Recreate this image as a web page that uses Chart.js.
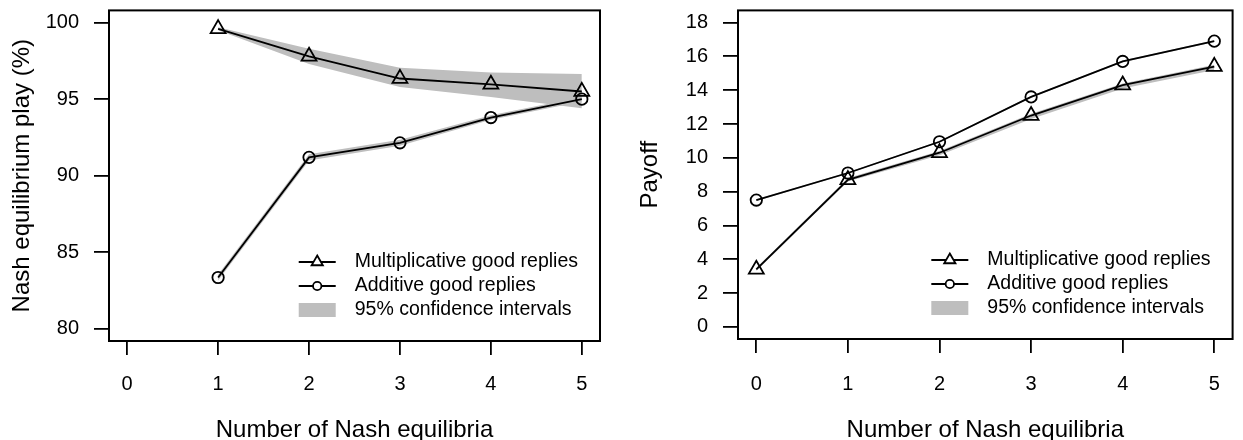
<!DOCTYPE html>
<html>
<head>
<meta charset="utf-8">
<script src="https://cdn.jsdelivr.net/npm/chart.js@4.4.1/dist/chart.umd.min.js"></script>
<style>
  html, body { margin: 0; padding: 0; background: #fff; }
  #left { position: absolute; left: 0; top: 0; }
  #right { position: absolute; left: 620px; top: 0; }
</style>
</head>
<body>
<canvas id="left" width="620" height="440"></canvas>
<canvas id="right" width="623" height="440"></canvas>
<script>
// x positions (number of Nash equilibria)
const xVals = [0, 1, 2, 3, 4, 5];

// left panel: Nash equilibrium play (%)
const nashMult = [null, 99.6, 97.8, 96.35, 95.97, 95.5];
const nashMultLo = [null, 99.5, 97.3, 95.8, 95.15, 94.4];
const nashMultHi = [null, 99.7, 98.3, 97.05, 96.75, 96.65];
const nashAdd = [null, 83.35, 91.2, 92.15, 93.8, 95.0];
const nashAddLo = [null, 83.15, 91.0, 91.95, 93.65, 94.85];
const nashAddHi = [null, 83.55, 91.4, 92.35, 93.95, 95.15];
const nashTicks = [80, 85, 90, 95, 100];

// right panel: payoff
const payMult = [3.4, 8.7, 10.3, 12.5, 14.3, 15.4];
const payMultLo = [3.3, 8.6, 10.15, 12.3, 14.1, 15.2];
const payMultHi = [3.5, 8.8, 10.4, 12.6, 14.4, 15.5];
const payAdd = [7.5, 9.1, 10.95, 13.6, 15.7, 16.9];
const payAddLo = [7.45, 9.05, 10.9, 13.55, 15.65, 16.85];
const payAddHi = [7.55, 9.15, 11.0, 13.65, 15.75, 16.95];
const payTicks = [0, 2, 4, 6, 8, 10, 12, 14, 16, 18];

const legendLabels = ["Multiplicative good replies", "Additive good replies", "95% confidence intervals"];

const FONT = "'Liberation Sans', Arial, Helvetica, sans-serif";
const BAND = "rgb(190,190,190)";

function pts(arr) {
  return arr.map((v, i) => ({ x: xVals[i], y: v }));
}

// box around the plot region
const frame = {
  id: "frame",
  afterDraw(chart) {
    const { ctx, chartArea: a } = chart;
    ctx.save();
    ctx.strokeStyle = "#000";
    ctx.lineWidth = 2;
    ctx.strokeRect(a.left, a.top, a.right - a.left, a.bottom - a.top);
    ctx.restore();
  },
};

// legend inside bottom right, like R's legend()
const boxLegend = {
  id: "boxLegend",
  afterDraw(chart) {
    const { ctx, chartArea: a } = chart;
    ctx.save();
    ctx.font = "19.5px " + FONT;
    const w = Math.max(...legendLabels.map((t) => ctx.measureText(t).width));
    const tx = a.right - 22 - w;
    const x1 = tx - 56, x2 = tx - 19, xm = (x1 + x2) / 2;
    const rows = [a.bottom - 79, a.bottom - 55, a.bottom - 31];

    ctx.strokeStyle = "#000";
    ctx.lineWidth = 1.8;
    for (let i = 0; i < 2; i++) {
      ctx.beginPath();
      ctx.moveTo(x1, rows[i]);
      ctx.lineTo(x2, rows[i]);
      ctx.stroke();
    }
    // triangle
    const r = 6.5;
    ctx.beginPath();
    ctx.moveTo(xm, rows[0] - r);
    ctx.lineTo(xm + r * 0.866, rows[0] + r / 2);
    ctx.lineTo(xm - r * 0.866, rows[0] + r / 2);
    ctx.closePath();
    ctx.fillStyle = "#fff";
    ctx.fill();
    ctx.stroke();
    // circle
    ctx.beginPath();
    ctx.arc(xm, rows[1], 4.2, 0, Math.PI * 2);
    ctx.fill();
    ctx.stroke();
    // band
    ctx.fillStyle = BAND;
    ctx.fillRect(x1, rows[2] - 7, x2 - x1, 14);

    ctx.fillStyle = "#000";
    ctx.textBaseline = "middle";
    ctx.textAlign = "left";
    legendLabels.forEach((t, i) => ctx.fillText(t, tx, rows[i]));
    ctx.restore();
  },
};

function makeChart(id, s, cfg) {
  const line = (data, style, r) => ({
    data: pts(data),
    borderColor: "#000",
    borderWidth: 1.8,
    pointStyle: style,
    pointRadius: r,
    pointBorderColor: "#000",
    pointBorderWidth: 1.8,
    pointBackgroundColor: "rgba(0,0,0,0)",
    fill: false,
    tension: 0,
  });
  const band = (data, fill) => ({
    data: pts(data),
    borderColor: "rgba(0,0,0,0)",
    borderWidth: 0,
    pointRadius: 0,
    backgroundColor: BAND,
    fill: fill,
    tension: 0,
  });

  return new Chart(document.getElementById(id), {
    type: "line",
    data: {
      datasets: [
        line(s.mult, "triangle", 8.6),
        line(s.add, "circle", 5.7),
        band(s.multHi, "+1"),
        band(s.multLo, false),
        band(s.addHi, "+1"),
        band(s.addLo, false),
      ],
    },
    options: {
      responsive: false,
      animation: false,
      events: [],
      layout: { padding: cfg.padding },
      plugins: { legend: { display: false }, tooltip: { enabled: false } },
      scales: {
        x: {
          type: "linear",
          min: -0.2,
          max: 5.2,
          afterBuildTicks: (sc) => { sc.ticks = xVals.map((v) => ({ value: v })); },
          afterFit: (sc) => {
            sc.height = cfg.xHeight;
            sc.paddingLeft = sc.paddingRight = sc.paddingTop = sc.paddingBottom = 0;
          },
          border: { display: false },
          grid: { drawOnChartArea: false, drawTicks: true, tickLength: 14, color: "#000", lineWidth: 1.8 },
          ticks: { color: "#000", font: { family: FONT, size: 20 }, padding: cfg.xPad, maxRotation: 0, autoSkip: false },
          title: {
            display: true,
            text: "Number of Nash equilibria",
            color: "#000",
            font: { family: FONT, size: 24, lineHeight: 0.84 },
            padding: 0,
          },
        },
        y: {
          min: cfg.yMin,
          max: cfg.yMax,
          afterBuildTicks: (sc) => { sc.ticks = cfg.yTicks.map((v) => ({ value: v })); },
          afterFit: (sc) => {
            sc.width = cfg.yWidth;
            sc.paddingLeft = sc.paddingRight = sc.paddingTop = sc.paddingBottom = 0;
          },
          border: { display: false },
          grid: { drawOnChartArea: false, drawTicks: true, tickLength: 15, color: "#000", lineWidth: 1.8 },
          ticks: { color: "#000", font: { family: FONT, size: 20 }, padding: 15, autoSkip: false },
          title: {
            display: true,
            text: cfg.yTitle,
            color: "#000",
            font: { family: FONT, size: 24 },
            padding: { top: cfg.yTitlePad, bottom: 0 },
          },
        },
      },
    },
    plugins: [frame, boxLegend],
  });
}

makeChart(
  "left",
  { mult: nashMult, multLo: nashMultLo, multHi: nashMultHi, add: nashAdd, addLo: nashAddLo, addHi: nashAddHi },
  {
    padding: { top: 7, right: 20, left: 0, bottom: 0 },
    xHeight: 99, xPad: 17, yWidth: 109, yTitlePad: 8,
    yMin: 79.2, yMax: 100.8, yTicks: nashTicks,
    yTitle: "Nash equilibrium play (%)",
  }
);

makeChart(
  "right",
  { mult: payMult, multLo: payMultLo, multHi: payMultHi, add: payAdd, addLo: payAddLo, addHi: payAddHi },
  {
    padding: { top: 1, right: 5, left: 0, bottom: 0 },
    xHeight: 101, xPad: 19, yWidth: 118, yTitlePad: 16,
    yMin: -0.72, yMax: 18.72, yTicks: payTicks,
    yTitle: "Payoff",
  }
);
</script>
</body>
</html>
